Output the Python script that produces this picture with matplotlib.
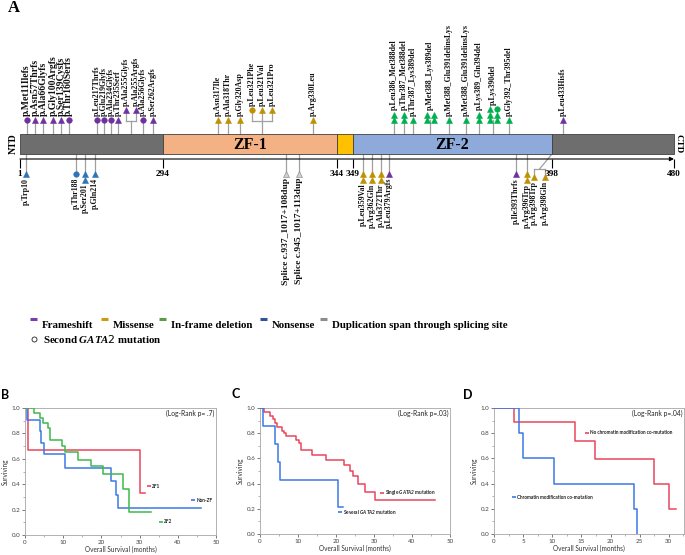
import numpy as np
import matplotlib
matplotlib.use('Agg')
from matplotlib import pyplot as plt
from matplotlib.ticker import MultipleLocator, FormatStrFormatter

plt.rcParams['font.family'] = 'Lato'
plt.rcParams['mathtext.fontset'] = 'custom'
plt.rcParams['mathtext.it'] = 'Liberation Serif:italic:bold'
plt.rcParams['mathtext.sf'] = 'Lato:italic:bold'

SERIF = 'Liberation Serif'
W, H = 685, 555

# ---------------------------------------------------------------------------
# A: GATA2 protein and its mutations
# ---------------------------------------------------------------------------
dom_start = [1, 294, 344, 349, 398]
dom_end = [294, 344, 349, 398, 480]
dom_name = ['', 'ZF-1', '', 'ZF-2', '']
dom_color = ['#6e6e6e', '#f4b183', '#ffc000', '#8eaadb', '#6e6e6e']
ruler_ticks = [1, 294, 344, 349, 398, 480]

# mutations drawn above the protein; position = place on the drawn ruler
# (the drawing is not to scale, so these are read off the figure)
top_label = ['p.Met11Ilefs', 'p.Asn57Thrfs', 'p.Ala66Glyfs', 'p.Gly100Argfs',
             'p.Ser139Cysfs', 'p.Thr160Serfs', 'p.Leu217Thrfs',
             'p.Glu219Glyfs', 'p.Ala234Glyfs', 'p.Thr235Serf',
             'p.Ala255Glyfs', 'p.Ala255Argfs', 'p.Ala256Glyfs',
             'p.Ser262Argfs', 'p.Asn317Ile', 'p.Ala318Thr', 'p.Gly320Asp',
             'p.Leu321Phe', 'p.Leu321Val', 'p.Leu321Pro', 'p.Arg330Leu',
             'p.Leu386_Met388del', 'p.Thr387_Met388del', 'p.Thr387_Lys389del',
             'p.Met388_Lys389del', 'p.Met388_Glu391delinsLys',
             'p.Met388_Glu391delinsLys', 'p.Lys389_Gln394del', 'p.Lys390del',
             'p.Gly392_Thr395del', 'p.Leu433Hisfs']
top_pos = [15, 32, 48, 69, 85, 101, 159, 173, 187.5, 202, 228, 228, 253, 274,
           309.8, 312.7, 316.1, 322.5, 322.5, 322.5, 337.1,
           359.1, 361.6, 363.8, 368.0, 372.6, 376.8, 380.0, 383.5, 387.4,
           405.4]
top_type = ['F'] * 14 + ['M'] * 7 + ['D'] * 9 + ['F']
top_n = [1] * 21 + [2, 2, 1, 4, 1, 1, 2, 6, 1] + [1]
top_second = [1, 0, 0, 0, 0, 1, 1, 1, 1, 0, 0, 0, 1, 0,
              0, 0, 0, 1, 0, 0, 0,
              0, 0, 0, 0, 0, 0, 0, 1, 0,
              0]

# mutations drawn below the protein
bot_label = ['p.Trp10', 'p.Thr188', 'p.Ser201', 'p.Gln214',
             'Splice c.937_1017+108dup', 'Splice c.945_1017+113dup',
             'p.Leu359Val', 'p.Arg362Gln', 'p.Ala372Thr', 'p.Leu379Argfs',
             'p.Ile393Thrfs', 'p.Arg396Trp', 'p.Arg398Trp', 'p.Arg398Gln']
bot_pos = [13, 116, 134, 155, 329.4, 333.1, 351.5, 353.7, 355.9, 357.9,
           389.1, 391.8, 398, 398]
bot_type = ['N'] * 4 + ['S'] * 2 + ['M'] * 3 + ['F', 'F'] + ['M'] * 3
bot_n = [1, 1, 2, 1, 1, 1, 2, 2, 2, 1, 1, 2, 1, 1]
bot_second = [0, 1, 0, 0, 0, 0, 0, 0, 0, 0, 0, 0, 0, 0]

type_color = {'F': '#7030a0', 'M': '#bf9000', 'D': '#00b050',
              'N': '#2e75b6', 'S': '#d0d0d0'}

leg_text = ['Frameshift', 'Missense', 'In-frame deletion', 'Nonsense',
            'Duplication span through splicing site']
leg_color = ['#7a3db0', '#cc9a10', '#5b9b45', '#2f5597', '#8c8c8c']

# ---------------------------------------------------------------------------
# B, C, D: Kaplan-Meier curves (months, surviving fraction)
# ---------------------------------------------------------------------------
b_zf1_t = [0, 0.8, 30.0, 31.3]
b_zf1_s = [1.0, 0.667, 0.333, 0.333]
b_nonzf_t = [0, 0.5, 3.8, 4.3, 5.0, 10.5, 22.5, 23.8, 24.4, 46.0]
b_nonzf_s = [1.0, 0.909, 0.818, 0.727, 0.636, 0.530, 0.424, 0.318, 0.212,
             0.212]
b_zf2_t = [0, 2.4, 3.8, 4.8, 5.9, 6.5, 9.6, 10.5, 13.8, 17.2, 20.5, 25.7,
           27.3, 33.1]
b_zf2_s = [1.0, 0.96, 0.92, 0.88, 0.84, 0.75, 0.70, 0.65, 0.59, 0.54, 0.48,
           0.36, 0.18, 0.18]

c_single_t = [0, 1.1, 2.5, 3.3, 4.0, 4.4, 5.9, 6.4, 6.8, 9.4, 10.3, 10.8,
              13.8, 17.3, 22.1, 23.7, 24.4, 25.7, 27.5, 30.3, 46.0]
c_single_s = [1.0, 0.97, 0.94, 0.91, 0.88, 0.85, 0.82, 0.80, 0.78, 0.75,
              0.72, 0.67, 0.63, 0.59, 0.55, 0.50, 0.46, 0.40, 0.33, 0.27,
              0.27]
c_several_t = [0, 0.7, 3.95, 4.8, 5.3, 20.6, 21.8]
c_several_s = [1.0, 0.857, 0.714, 0.571, 0.429, 0.214, 0.214]

d_nochrom_t = [0, 3.5, 13.9, 17.3, 27.4, 30.0, 31.2]
d_nochrom_s = [1.0, 0.889, 0.741, 0.593, 0.395, 0.198, 0.198]
d_chrom_t = [0, 4.3, 5.0, 10.3, 24.0, 24.6]
d_chrom_s = [1.0, 0.8, 0.6, 0.4, 0.2, 0.0]

RED, BLUE, GREEN = '#e8465c', '#3b78e7', '#3dbb4a'


fig = plt.figure(figsize=(W / 100, H / 100), dpi=100)

# overlay in pixel units for panel letters and the legend
axP = fig.add_axes([0, 0, 1, 1])
axP.set_xlim(0, W)
axP.set_ylim(H, 0)
axP.axis('off')

# the drawn ruler is piecewise linear between its labelled ticks
knot_r = [1 - 20 * 293 / 143, 1, 294, 344, 349, 398, 480, 480 + 11 * 82 / 122]
knot_px = [0, 20, 163, 337, 353, 552, 674, 685]


def fwd(r):
    return np.interp(r, knot_r, knot_px)


def inv(p):
    return np.interp(p, knot_px, knot_r)


axA = fig.add_axes([0, 1 - 300 / H, 1, 300 / H])
axA.set_xscale('function', functions=(fwd, inv))
axA.set_xlim(knot_r[0], knot_r[-1])
axA.set_ylim(300, 0)
axA.axis('off')

axA.barh(144, np.subtract(dom_end, dom_start), left=dom_start, height=20,
         color=dom_color, edgecolor='#404040', linewidth=0.6, zorder=2)
for s, e, name in zip(dom_start, dom_end, dom_name):
    if name:
        axA.text(inv((fwd(s) + fwd(e)) / 2), 145, name, ha='center',
                 va='center', family=SERIF, fontweight='bold', fontsize=11.5,
                 zorder=3)
axA.text(inv(13), 144, 'NTD', rotation=90, ha='center', va='center',
         family=SERIF, fontweight='bold', fontsize=7)
axA.text(inv(678.5), 144, 'CTD', rotation=-90, ha='center', va='center',
         family=SERIF, fontweight='bold', fontsize=6.5)

# ruler
axA.annotate('', xy=(480, 159), xytext=(1, 159),
             arrowprops=dict(arrowstyle='-|>', lw=0.8, color='k',
                             mutation_scale=6, shrinkA=0, shrinkB=0))
axA.vlines(ruler_ticks, 159, 168, color='k', lw=0.8)
for t in ruler_ticks:
    axA.text(t, 174, str(t), ha='center', va='center', family=SERIF,
             fontweight='bold', fontsize=6.7)

STEM = '#a0a0a0'
bracket_shift = {398: -12.5}


def draw_head(xp, y, kind, second):
    c = type_color[kind]
    ec = '#808080' if kind == 'S' else c
    if second:
        axA.plot(inv(xp), y, 'o', ms=4.0, mfc=c, mec=ec, mew=0.4, zorder=4)
    else:
        axA.plot(inv(xp), y, '^', ms=4.6, mfc=c, mec=ec, mew=0.4, zorder=4)


def draw_label(xp, y, text, top, size):
    axA.text(inv(xp), y, text, rotation=90, ha='center',
             va='bottom' if top else 'top', family=SERIF, fontweight='bold',
             fontsize=size, color='#111')


def draw_side(labels, pos, types, ns, seconds, top, big=0):
    d = -1 if top else 1
    y0 = 134 if top else 154
    y1 = 120 if top else 174
    step = 5.5
    done = set()
    for i in range(len(labels)):
        if i in done:
            continue
        size = 7.0 if i < big else (6.8 if types[i] == 'S' else 5.7)
        same = [j for j in range(len(labels)) if pos[j] == pos[i]]
        done.update(same)
        xs = fwd(pos[i])
        if len(same) > 1:
            # several changes at one residue: one stem, bracket to each
            cx = xs + bracket_shift.get(pos[i], 0)
            yb = 121 if top else 169
            yh = 110 if top else 177
            gap = 10 if top else 11
            axA.plot(inv([xs, cx]), [y0, yb], color=STEM, lw=0.9, zorder=1)
            offs = [(k - (len(same) - 1) / 2) * gap for k in range(len(same))]
            axA.plot(inv([cx + offs[0], cx + offs[-1]]), [yb, yb],
                     color=STEM, lw=0.9, zorder=1)
            for j, o in zip(same, offs):
                axA.plot(inv([cx + o, cx + o]), [yb, yh], color=STEM, lw=0.9,
                         zorder=1)
                draw_head(cx + o, yh, types[j], seconds[j])
                draw_label(cx + o, yh + d * 4, labels[j], top, size)
            continue
        n = ns[i]
        ncol = 1 if n <= 2 else 2
        nrow = int(np.ceil(n / ncol))
        axA.plot(inv([xs, xs]), [y0, y1], color=STEM, lw=0.9, zorder=1)
        k = 0
        for c in range(ncol):
            for r in range(nrow):
                if k >= n:
                    break
                dx = (c - (ncol - 1) / 2) * 7
                draw_head(xs + dx, y1 + d * r * step, types[i],
                          k >= n - seconds[i])
                k += 1
        draw_label(xs, y1 + d * ((nrow - 1) * step + 4), labels[i], top, size)


draw_side(top_label, top_pos, top_type, top_n, top_second, True, big=6)
draw_side(bot_label, bot_pos, bot_type, bot_n, bot_second, False)

axP.text(14, 8, 'A', ha='center', va='center', family=SERIF,
         fontweight='bold', fontsize=12)

# legend
leg_x = [42, 113, 171, 272, 332]
for x, txt, c in zip(leg_x, leg_text, leg_color):
    axP.plot([x - 12, x - 5], [319, 319], color=c, lw=2.2,
             solid_capstyle='butt')
    axP.text(x, 325, txt, ha='left', va='center', family=SERIF,
             fontweight='bold', fontsize=7.8)
axP.plot(34, 339, 'o', ms=3.6, mfc='white', mec='#222', mew=0.6)
axP.text(43, 339, r'Second $\mathit{GATA2}$ mutation', ha='left',
         va='center', family=SERIF, fontweight='bold', fontsize=7.8)


# ---------------------------------------------------------------------------
def km_panel(box, xmax, xstep, curves, pval, letter, letter_xy):
    left, right, top, bottom = box
    ax = fig.add_axes([left / W, 1 - bottom / H, (right - left) / W,
                       (bottom - top) / H])
    for t, s, color, name, nx, ny in curves:
        ax.step(t, s, where='post', color=color, lw=1.1, zorder=3)
        ax.plot(nx, ny, marker='_', ms=3, mew=1.2, color=color)
        ax.annotate(name, (nx, ny), xytext=(2.2, 0),
                    textcoords='offset points', va='center', ha='left',
                    fontsize=3.4, fontweight='bold', color='#222')
    ax.set_xlim(0, xmax)
    ax.set_ylim(0, 1)
    ax.set_yticks(np.arange(0, 1.01, 0.2))
    ax.yaxis.set_major_formatter(FormatStrFormatter('%.1f'))
    ax.yaxis.set_minor_locator(MultipleLocator(0.1))
    ax.xaxis.set_major_locator(MultipleLocator(xstep))
    ax.xaxis.set_minor_locator(MultipleLocator(xstep / 2))
    for sp in ax.spines.values():
        sp.set_color('#a6a6a6')
        sp.set_linewidth(0.6)
    ax.tick_params(labelsize=4.5, colors='#444', length=2, width=0.5, pad=1.5)
    ax.tick_params(which='minor', length=1.2, width=0.4, colors='#777')
    ax.set_ylabel('Surviving', fontsize=4.7, color='#333', labelpad=2)
    ax.set_xlabel('Overall Survival (months)', fontsize=4.7, color='#333',
                  labelpad=1)
    ax.text(0.99, 0.955, pval, transform=ax.transAxes, ha='right',
            va='center', fontsize=4.9, color='#222')
    axP.text(letter_xy[0], letter_xy[1], letter, ha='center', va='center',
             fontsize=9, fontweight='bold')
    return ax


km_panel((25, 216, 408, 535), 50, 10,
         [(b_zf1_t, b_zf1_s, RED, 'ZF1', 32.5, 0.385),
          (b_nonzf_t, b_nonzf_s, BLUE, 'Non-ZF', 44.1, 0.272),
          (b_zf2_t, b_zf2_s, GREEN, 'ZF2', 35.5, 0.105)],
         '(Log-Rank p= .7)', 'B', (5, 395))

km_panel((260, 450, 408, 534), 50, 10,
         [(c_single_t, c_single_s, RED, r'Single $\mathsf{GATA2}$ mutation',
           32.2, 0.327),
          (c_several_t, c_several_s, BLUE,
           r'Several $\mathsf{GATA2}$ mutation', 21.0, 0.172)],
         '(Log-Rank p=.03)', 'C', (236, 394))

km_panel((494, 684, 408, 534), 32.6, 5,
         [(d_nochrom_t, d_nochrom_s, RED,
           'No chromatin modification co-mutation', 15.9, 0.805),
          (d_chrom_t, d_chrom_s, BLUE, 'Chromatin modification co-mutation',
           3.4, 0.29)],
         '(Log-Rank p=.04)', 'D', (468, 395))

fig.savefig('out.png', dpi=100)
